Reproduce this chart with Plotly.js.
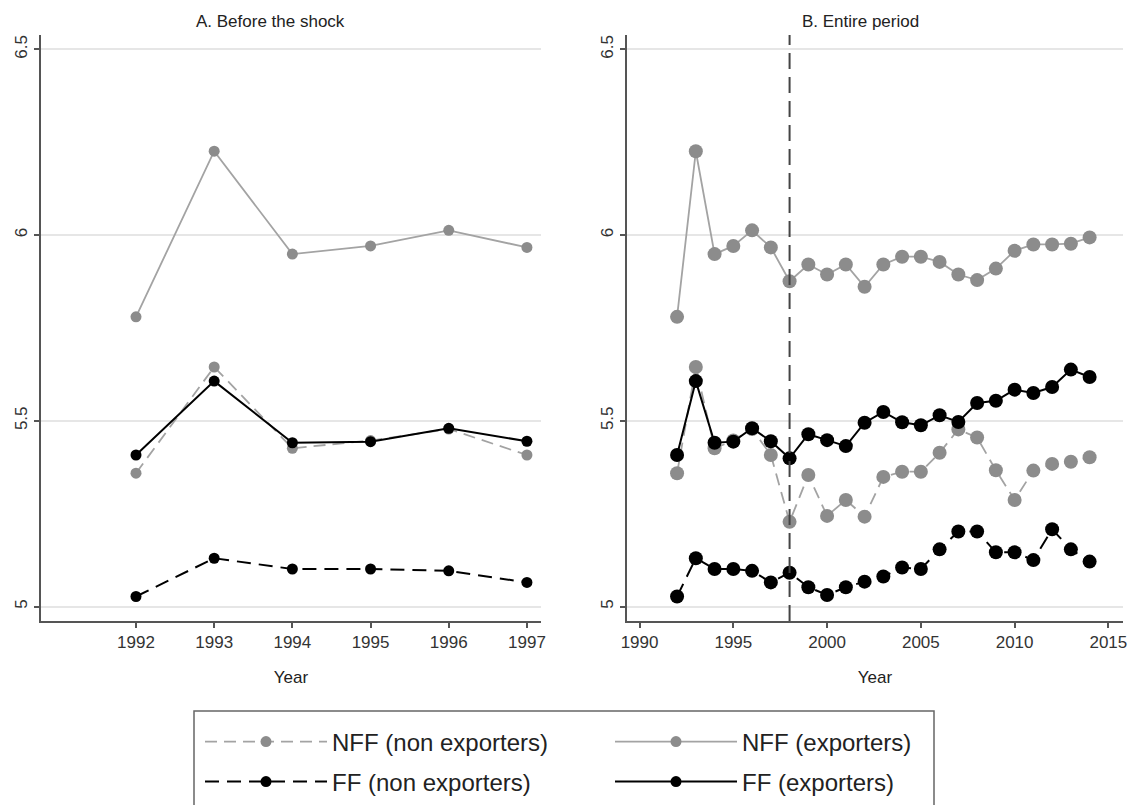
<!DOCTYPE html>
<html>
<head>
<meta charset="utf-8">
<script src="https://cdn.plot.ly/plotly-3.0.1.min.js"></script>
<style>
html,body{margin:0;padding:0;background:#fff;}
#chart{width:1132px;height:805px;}
</style>
</head>
<body>
<div id="chart"></div>
<script>
// ---- data ----
var years = [1992,1993,1994,1995,1996,1997,1998,1999,2000,2001,2002,2003,2004,2005,2006,2007,2008,2009,2010,2011,2012,2013,2014];
var shockYear = 1998;
var preYears = [1992,1993,1994,1995,1996,1997];

var nffNonExp = [5.359,5.645,5.426,5.447,5.478,5.408,5.228,5.354,5.244,5.287,5.242,5.349,5.363,5.363,5.414,5.477,5.455,5.367,5.287,5.366,5.384,5.390,5.402];
var nffExp    = [5.780,6.226,5.949,5.971,6.013,5.967,5.876,5.921,5.894,5.921,5.861,5.921,5.942,5.942,5.928,5.894,5.879,5.910,5.958,5.975,5.975,5.977,5.994];
var ffNonExp  = [5.027,5.130,5.101,5.101,5.096,5.065,5.091,5.052,5.031,5.052,5.067,5.081,5.105,5.101,5.154,5.202,5.202,5.146,5.146,5.125,5.208,5.154,5.121];
var ffExp     = [5.408,5.607,5.441,5.444,5.480,5.445,5.399,5.464,5.448,5.432,5.495,5.524,5.496,5.488,5.515,5.497,5.548,5.554,5.584,5.575,5.591,5.638,5.618];

var seriesNames = ["NFF (non exporters)","NFF (exporters)","FF (non exporters)","FF (exporters)"];
var yTickVals = [5,5.5,6,6.5];
var yTickText = ["5","5.5","6","6.5"];
var xTicksA = [1992,1993,1994,1995,1996,1997];
var xTicksB = [1990,1995,2000,2005,2010,2015];
var panelTitles = ["A. Before the shock","B. Entire period"];
var xTitle = "Year";

// ---- styles ----
var GRAY_LINE = "#a3a3a3", GRAY_MK = "#8c8c8c", BLACK = "#000000";
var styles = [
  {lc: GRAY_LINE, mc: GRAY_MK, dash: "12px,7px", lw: 1.8, leg: "legend"},
  {lc: GRAY_LINE, mc: GRAY_MK, dash: "solid",    lw: 1.8, leg: "legend"},
  {lc: BLACK,     mc: BLACK,   dash: "14px,8px", lw: 2,   leg: "legend2"},
  {lc: BLACK,     mc: BLACK,   dash: "solid",    lw: 2,   leg: "legend2"}
];
var allSeries = [nffNonExp, nffExp, ffNonExp, ffExp];

var traces = [];
var nPre = preYears.length;
allSeries.forEach(function(s, i){
  var st = styles[i];
  traces.push({
    type: "scatter", mode: "lines+markers", name: seriesNames[i],
    x: preYears, y: s.slice(0, nPre), xaxis: "x", yaxis: "y",
    line: {color: st.lc, width: st.lw, dash: st.dash},
    marker: {color: st.mc, size: 11},
    legend: st.leg, showlegend: true, hoverinfo: "x+y+name"
  });
});
allSeries.forEach(function(s, i){
  var st = styles[i];
  traces.push({
    type: "scatter", mode: "lines+markers", name: seriesNames[i],
    x: years, y: s, xaxis: "x2", yaxis: "y2",
    line: {color: st.lc, width: st.lw, dash: st.dash},
    marker: {color: st.mc, size: 14},
    showlegend: false, hoverinfo: "x+y+name"
  });
});

var FONT = "Liberation Sans, Arial, Helvetica, sans-serif";
var W = 1132, H = 805;
function px(x){ return x / W; }
function py(y){ return 1 - y / H; }

var yBase = {
  range: [4.961, 6.539], tickmode: "array", tickvals: yTickVals, ticktext: yTickText,
  tickangle: -90, ticks: "outside", ticklen: 5, tickwidth: 1.5, tickcolor: "#555",
  showline: true, linecolor: "#555", linewidth: 1.5,
  showgrid: true, gridcolor: "#e6e6e6", gridwidth: 2, zeroline: false,
  tickfont: {family: FONT, size: 17, color: "#333"},
  domain: [py(621), py(35)], fixedrange: true
};
function xBase(range, ticks, dom){
  return {
    range: range, tickmode: "array", tickvals: ticks,
    ticks: "outside", ticklen: 5, tickwidth: 1.5, tickcolor: "#555",
    showline: true, linecolor: "#555", linewidth: 1.5,
    showgrid: false, zeroline: false,
    tickfont: {family: FONT, size: 17, color: "#333"},
    title: {text: xTitle, font: {family: FONT, size: 17, color: "#222"}, standoff: 20},
    domain: dom, fixedrange: true
  };
}

var legendCommon = {
  orientation: "h", x: px(200), xanchor: "left", yanchor: "middle",
  bgcolor: "rgba(0,0,0,0)", borderwidth: 0, itemwidth: 122, entrywidth: 273,
  font: {family: FONT, size: 24, color: "#222"}, itemclick: false, itemdoubleclick: false
};

var layout = {
  width: W, height: H,
  margin: {l: 0, r: 0, t: 0, b: 0, pad: 0},
  paper_bgcolor: "#fff", plot_bgcolor: "#fff",
  font: {family: FONT, color: "#222"},
  xaxis: xBase([1990.785, 1997.18], xTicksA, [px(41), px(541)]),
  xaxis2: Object.assign(xBase([1989.33, 2015.78], xTicksB, [px(627), px(1123)]), {anchor: "y2"}),
  yaxis: Object.assign({}, yBase, {anchor: "x"}),
  yaxis2: Object.assign({}, yBase, {anchor: "x2"}),
  annotations: [
    {text: panelTitles[0], xref: "paper", yref: "paper", x: px(270), y: py(22), showarrow: false,
     xanchor: "center", yanchor: "middle", font: {family: FONT, size: 17, color: "#222"}},
    {text: panelTitles[1], xref: "paper", yref: "paper", x: px(860), y: py(22), showarrow: false,
     xanchor: "center", yanchor: "middle", font: {family: FONT, size: 17, color: "#222"}}
  ],
  shapes: [
    {type: "line", xref: "x2", yref: "y2 domain", x0: shockYear, x1: shockYear, y0: 0, y1: 1,
     line: {color: "#444", width: 2, dash: "16px,8px"}},
    {type: "rect", xref: "paper", yref: "paper", x0: px(194), x1: px(934), y0: -0.1, y1: py(711),
     line: {color: "#666", width: 1.5}, fillcolor: "rgba(0,0,0,0)"}
  ],
  legend: Object.assign({}, legendCommon, {y: py(742)}),
  legend2: Object.assign({}, legendCommon, {y: py(782)}),
  hovermode: "closest"
};

Plotly.newPlot("chart", traces, layout, {displayModeBar: false, responsive: false});
</script>
</body>
</html>
